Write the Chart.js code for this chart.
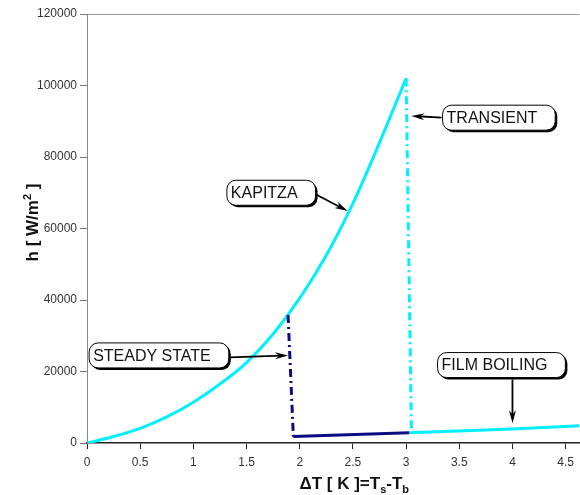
<!DOCTYPE html>
<html>
<head>
<meta charset="utf-8">
<script src="https://cdn.jsdelivr.net/npm/chart.js@4.4.0/dist/chart.umd.min.js"></script>
<style>
  html, body { margin: 0; padding: 0; background: #fff; }
  #wrap { width: 580px; height: 495px; position: relative; }
</style>
</head>
<body>
<div id="wrap"><canvas id="boilingChart"></canvas></div>
<script>
// Kapitza branch (nucleate regime)
var kapitzaDT = [0, 0.25, 0.5, 0.75, 1, 1.25, 1.5, 1.75, 2, 2.25, 2.5, 2.75, 3];
var kapitzaH = [0, 1800, 4100, 7300, 11400, 16500, 22500, 30500, 40500, 52500, 67000, 84000, 102000];

// steady state: drop, then the navy film boiling piece
var steadyDT = [1.89, 1.94];
var steadyH = [35800, 1800];
var steadyFilmDT = [1.94, 3.03];
var steadyFilmH = [1800, 2900];

// transient drop
var transientDT = [3.0, 3.05];
var transientH = [102000, 3000];

// film boiling
var filmDT = [3.03, 4.0, 4.63];
var filmH = [2900, 3900, 4800];

// tick labels
var xTickValues = [0, 0.5, 1, 1.5, 2, 2.5, 3, 3.5, 4, 4.5];
var yTickValues = [0, 20000, 40000, 60000, 80000, 100000, 120000];

// callout labels
var calloutText = ['KAPITZA', 'TRANSIENT', 'STEADY STATE', 'FILM BOILING'];

function toPoints(xs, ys) {
    return xs.map(function (x, i) { return { x: x, y: ys[i] }; });
}

// where the boxes sit (data units): box left edge, box centre, arrow tip
var calloutPlace = [
    { x: 1.315, y: 70000, tipX: 2.45, tipY: 64900, from: 'right' },
    { x: 3.343, y: 91000, tipX: 3.05, tipY: 91500, from: 'left' },
    { x: 0.02, y: 24500, tipX: 1.89, tipY: 24500, from: 'right' },
    { x: 3.296, y: 21800, tipX: 4.0, tipY: 5500, from: 'bottom' }
];

var FONT = '"Liberation Sans", Arial, sans-serif';

function roundRect(ctx, x, y, w, h, r) {
    ctx.beginPath();
    ctx.moveTo(x + r, y);
    ctx.lineTo(x + w - r, y);
    ctx.arcTo(x + w, y, x + w, y + r, r);
    ctx.lineTo(x + w, y + h - r);
    ctx.arcTo(x + w, y + h, x + w - r, y + h, r);
    ctx.lineTo(x + r, y + h);
    ctx.arcTo(x, y + h, x, y + h - r, r);
    ctx.lineTo(x, y + r);
    ctx.arcTo(x, y, x + r, y, r);
    ctx.closePath();
}

function arrow(ctx, x0, y0, x1, y1) {
    var a = Math.atan2(y1 - y0, x1 - x0);
    var len = 13, half = 3.5;
    ctx.beginPath();
    ctx.moveTo(x0, y0);
    ctx.lineTo(x1 - Math.cos(a) * 6, y1 - Math.sin(a) * 6);
    ctx.stroke();
    ctx.beginPath();
    ctx.moveTo(x1, y1);
    ctx.lineTo(x1 - Math.cos(a) * len - Math.sin(a) * half, y1 - Math.sin(a) * len + Math.cos(a) * half);
    ctx.lineTo(x1 - Math.cos(a) * (len - 4), y1 - Math.sin(a) * (len - 4));
    ctx.lineTo(x1 - Math.cos(a) * len + Math.sin(a) * half, y1 - Math.sin(a) * len - Math.cos(a) * half);
    ctx.closePath();
    ctx.fill();
}

// text with sub/superscripts, centred on x
function drawRich(ctx, parts, cx, cy) {
    var total = 0;
    parts.forEach(function (p) {
        ctx.font = 'bold ' + p.size + 'px ' + FONT;
        p.w = ctx.measureText(p.t).width;
        total += p.w;
    });
    var x = cx - total / 2;
    parts.forEach(function (p) {
        ctx.font = 'bold ' + p.size + 'px ' + FONT;
        ctx.fillText(p.t, x, cy + (p.dy || 0));
        x += p.w;
    });
}

var annotations = {
    id: 'annotations',
    afterDraw: function (chart) {
        var ctx = chart.ctx;
        var xs = chart.scales.x, ys = chart.scales.y;
        var area = chart.chartArea;
        ctx.save();

        // callouts
        ctx.font = '16px ' + FONT;
        ctx.textBaseline = 'middle';
        ctx.textAlign = 'left';
        calloutText.forEach(function (text, i) {
            var c = calloutPlace[i];
            var bx = xs.getPixelForValue(c.x);
            var by = ys.getPixelForValue(c.y);
            var w = ctx.measureText(text).width + 22;
            var h = 25;
            var top = by - h / 2;

            ctx.fillStyle = '#000';
            roundRect(ctx, bx + 2, top + 2, w, h, 9);
            ctx.fill();
            ctx.fillStyle = '#fff';
            ctx.strokeStyle = '#000';
            ctx.lineWidth = 1;
            roundRect(ctx, bx, top, w, h, 9);
            ctx.fill();
            ctx.stroke();

            ctx.fillStyle = '#111';
            ctx.fillText(text, bx + 4, by + 1);

            var tx = xs.getPixelForValue(c.tipX);
            var ty = ys.getPixelForValue(c.tipY);
            var sx, sy;
            if (c.from === 'right') { sx = bx + w + 1; sy = by + 2; }
            else if (c.from === 'left') { sx = bx - 1; sy = by; }
            else { sx = tx; sy = top + h + 2; }
            ctx.strokeStyle = '#000';
            ctx.fillStyle = '#000';
            ctx.lineWidth = 1.8;
            arrow(ctx, sx, sy, tx, ty);
        });

        // axis titles
        ctx.fillStyle = '#111';
        ctx.textBaseline = 'alphabetic';
        drawRich(ctx, [
            { t: '\u0394T [ K ]=T', size: 17 },
            { t: 's', size: 11, dy: 4 },
            { t: '-T', size: 17 },
            { t: 'b', size: 11, dy: 4 }
        ], (area.left + area.right) / 2 + 21, 489);

        ctx.translate(38, (area.top + area.bottom) / 2 - 6);
        ctx.rotate(-Math.PI / 2);
        drawRich(ctx, [
            { t: 'h [ W/m', size: 17 },
            { t: '2', size: 11, dy: -7 },
            { t: ' ]', size: 17 }
        ], 0, 0);

        ctx.restore();
    }
};

var dashDot = [8, 4, 2, 4];

var chart = new Chart(document.getElementById('boilingChart').getContext('2d'), {
    type: 'line',
    data: {
        datasets: [
            {
                label: 'Steady state',
                data: toPoints(steadyDT, steadyH),
                borderColor: '#0b0b82',
                borderWidth: 3,
                borderDash: dashDot,
                order: 1
            },
            {
                label: 'Steady film',
                data: toPoints(steadyFilmDT, steadyFilmH),
                borderColor: '#0b0b82',
                borderWidth: 3,
                order: 1
            },
            {
                label: 'Transient',
                data: toPoints(transientDT, transientH),
                borderColor: '#00f0ff',
                borderWidth: 3,
                borderDash: dashDot,
                order: 2
            },
            {
                label: 'Film boiling',
                data: toPoints(filmDT, filmH),
                borderColor: '#00f0ff',
                borderWidth: 3,
                order: 2
            },
            {
                label: 'Kapitza',
                data: toPoints(kapitzaDT, kapitzaH),
                borderColor: '#00f0ff',
                borderWidth: 3,
                cubicInterpolationMode: 'monotone',
                order: 3
            }
        ]
    },
    options: {
        responsive: true,
        maintainAspectRatio: false,
        animation: false,
        layout: { padding: { top: 14, left: 0, right: 0, bottom: 0 } },
        elements: { point: { radius: 0 } },
        plugins: {
            legend: { display: false },
            tooltip: { enabled: false }
        },
        scales: {
            x: {
                type: 'linear',
                min: 0,
                max: 4.63,
                afterBuildTicks: function (scale) {
                    scale.ticks = xTickValues.map(function (v) { return { value: v }; });
                },
                afterFit: function (scale) { scale.height = 52; },
                ticks: {
                    color: '#333',
                    font: { family: FONT, size: 12 },
                    padding: 6,
                    maxRotation: 0,
                    callback: function (v) { return String(v); }
                },
                grid: {
                    drawOnChartArea: false,
                    tickLength: 6,
                    tickColor: '#222'
                },
                border: { color: '#222', width: 1.5 }
            },
            y: {
                type: 'linear',
                min: 0,
                max: 120000,
                afterBuildTicks: function (scale) {
                    scale.ticks = yTickValues.map(function (v) { return { value: v }; });
                },
                afterFit: function (scale) { scale.width = 87; },
                ticks: {
                    color: '#333',
                    font: { family: FONT, size: 12 },
                    padding: 3,
                    callback: function (v) { return String(v); }
                },
                grid: {
                    color: function (c) { return c.tick && c.tick.value === 120000 ? '#999' : 'rgba(0,0,0,0)'; },
                    tickLength: 7,
                    tickColor: '#777'
                },
                border: { color: '#888', width: 1 }
            }
        }
    },
    plugins: [annotations]
});
</script>
</body>
</html>
